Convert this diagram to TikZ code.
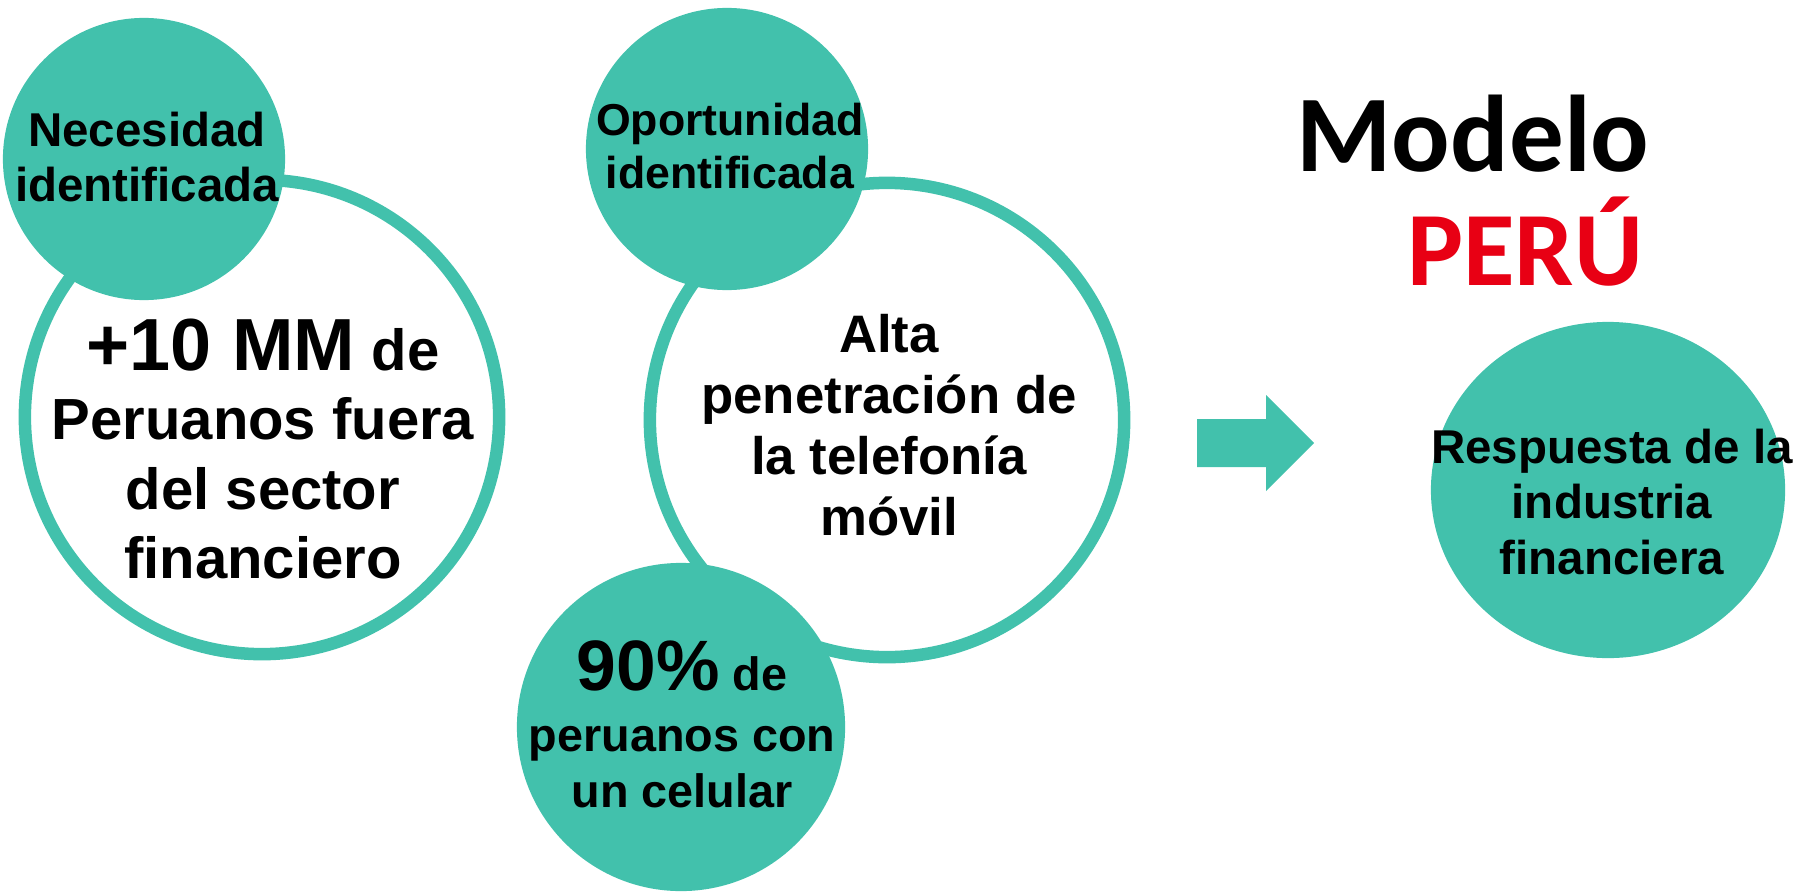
\documentclass[tikz,border=0pt]{standalone}
\usepackage{fontspec}
\setmainfont{Liberation Sans}
\newfontfamily\logofont{Carlito}
\usetikzlibrary{shapes.geometric}
\definecolor{verde}{RGB}{66,193,172}
\definecolor{rojo}{RGB}{232,0,20}
\tikzset{
	anillo/.style={circle, draw=verde, line width=0.125cm, fill=white, inner sep=0pt},
	burbuja/.style={circle, fill=verde, inner sep=0pt},
	texto/.style={align=center, inner sep=0pt}
}
\newcommand{\tam}[2]{\bfseries\fontsize{#1}{#2}\selectfont}

\begin{document}
\begin{tikzpicture}[x=0.01cm, y=-0.01cm]
	\useasboundingbox (0,0) rectangle (1798,894);

	% Rings
	\node[anillo, minimum size=4.74cm] (necRing) at (262,417) {};
	\node[anillo, minimum size=4.74cm] (opRing) at (887,420) {};

	% Bubbles
	\node[burbuja, minimum size=2.82cm] (nec) at (144,159) {};
	\node[burbuja, minimum size=2.82cm] (op) at (727,149) {};
	\node[burbuja, minimum size=3.28cm] (cel) at (681,727) {};
	\node[ellipse, fill=verde, inner sep=0pt, minimum width=3.54cm, minimum height=3.36cm] (resp) at (1608,490) {};

	% Texts
	\node[texto, font=\tam{13.5}{15.6}] (necTxt) at (147,157) {Necesidad\\identificada};
	\node[texto, font=\tam{16.5}{19.8}] (necRingTxt) at (263,449) {{\fontsize{21}{21}\selectfont +10 MM} de\\Peruanos fuera\\del sector\\financiero};
	\node[texto, font=\tam{12.7}{15.1}] (opTxt) at (730,146) {Oportunidad\\identificada};
	\node[texto, font=\tam{15}{17.4}] (opRingTxt) at (889,425) {Alta\\penetración de\\la telefonía\\móvil};
	\node[texto, font=\tam{13.3}{15.8}] (celTxt) at (682,724) {{\fontsize{20.3}{20.3}\selectfont 90\%} de\\[0.06cm]peruanos con\\un celular};
	\node[texto, font=\tam{13.5}{15.9}] (respTxt) at (1612,502) {Respuesta de la\\industria\\financiera};

	% Title
	\node[anchor=base, font=\logofont\bfseries\fontsize{31}{31}\selectfont] (modelo) at (1473,171) {Modelo};
	\node[anchor=base, text=rojo, font=\logofont\bfseries\fontsize{30}{30}\selectfont] (peru) at (1525,285) {PERÚ};

	% Arrow
	\fill[verde] (1197,419) -- (1266,419) -- (1266,395) -- (1314,443) -- (1266,491) -- (1266,467) -- (1197,467) -- cycle;
\end{tikzpicture}
\end{document}
